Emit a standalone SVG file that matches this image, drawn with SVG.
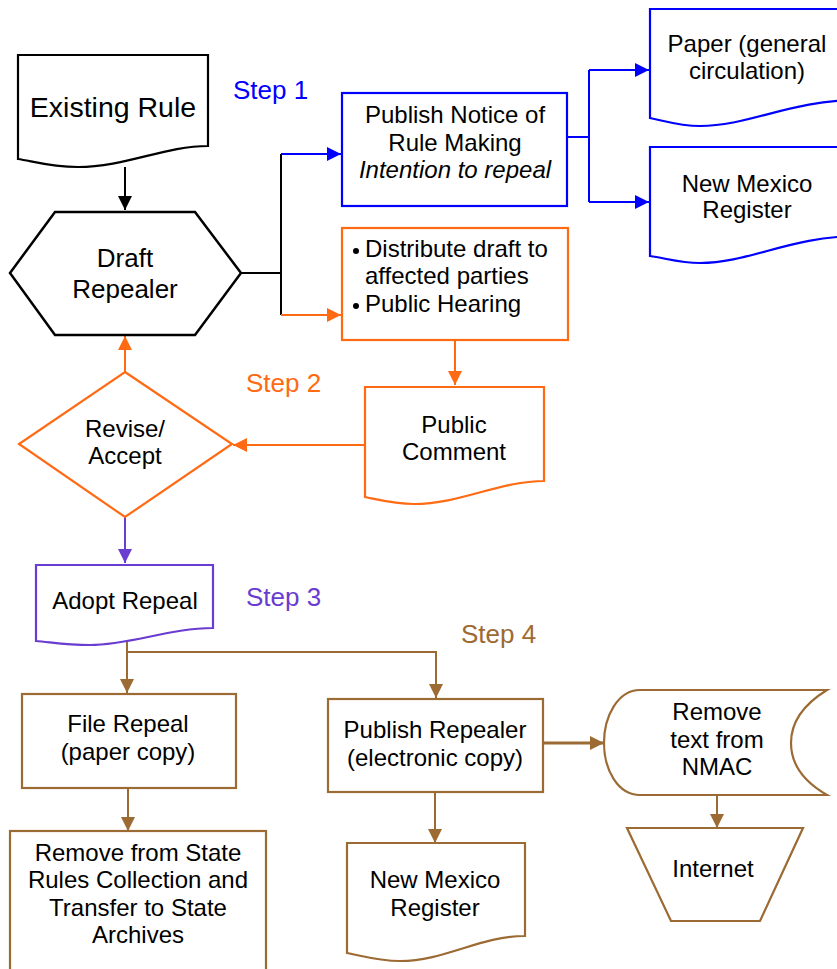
<svg xmlns="http://www.w3.org/2000/svg" width="837" height="969" viewBox="0 0 837 969">
<style>
text{font-family:"Liberation Sans",Arial,sans-serif;font-size:24px;fill:#000;text-anchor:middle}
.step{font-size:26px;text-anchor:start}
.shape{fill:#fff;stroke-width:2.2;stroke-linejoin:miter}
.k{stroke:#000}.b{stroke:#0000ff}.o{stroke:#ff6a13}.p{stroke:#6a3cd0}.n{stroke:#9c6a33}
.c{fill:none;stroke-width:2}
</style>
<defs>
<marker id="ak" markerUnits="userSpaceOnUse" markerWidth="14" markerHeight="14" refX="14" refY="7" orient="auto"><path d="M0,0 L14,7 L0,14 z" fill="#000"/></marker>
<marker id="ab" markerUnits="userSpaceOnUse" markerWidth="14" markerHeight="14" refX="14" refY="7" orient="auto"><path d="M0,0 L14,7 L0,14 z" fill="#0000ff"/></marker>
<marker id="ao" markerUnits="userSpaceOnUse" markerWidth="14" markerHeight="14" refX="14" refY="7" orient="auto"><path d="M0,0 L14,7 L0,14 z" fill="#ff6a13"/></marker>
<marker id="ap" markerUnits="userSpaceOnUse" markerWidth="14" markerHeight="14" refX="14" refY="7" orient="auto"><path d="M0,0 L14,7 L0,14 z" fill="#6a3cd0"/></marker>
<marker id="an" markerUnits="userSpaceOnUse" markerWidth="14" markerHeight="14" refX="14" refY="7" orient="auto"><path d="M0,0 L14,7 L0,14 z" fill="#9c6a33"/></marker>
</defs>
<rect width="837" height="969" fill="#fff"/>

<g id="connectors">
<path class="c k" d="M125,167 V210" marker-end="url(#ak)"/>
<path class="c k" d="M241,273 H281 M281,154 V315"/>
<path class="c b" d="M281,154 H341" marker-end="url(#ab)"/>
<path class="c o" d="M281,315 H341" marker-end="url(#ao)"/>
<path class="c b" d="M567,137 H589 M589,70 V202"/>
<path class="c b" d="M589,70 H649" marker-end="url(#ab)"/>
<path class="c b" d="M589,202 H649" marker-end="url(#ab)"/>
<path class="c o" d="M455,341 V385" marker-end="url(#ao)"/>
<path class="c o" d="M365,445 H233" marker-end="url(#ao)"/>
<path class="c o" d="M125,372 V336" marker-end="url(#ao)"/>
<path class="c p" d="M125,517 V563" marker-end="url(#ap)"/>
<path class="c n" d="M127,642 V693" marker-end="url(#an)"/>
<path class="c n" d="M127,652 H436 V698" marker-end="url(#an)"/>
<path class="c n" d="M128,788 V831" marker-end="url(#an)"/>
<path class="c n" style="stroke-width:3" d="M543,743 H604" marker-end="url(#an)"/>
<path class="c n" d="M717,795 V828" marker-end="url(#an)"/>
<path class="c n" d="M435,792 V843" marker-end="url(#an)"/>
</g>

<g id="existing-rule">
<path class="shape k" d="M18,55 H208 V146 C165,146 125,167 78,167 C50,167 32,161 18,159 Z"/>
<text x="113" y="117" style="font-size:28.5px">Existing Rule</text>
</g>
<text class="step" x="233" y="99" style="fill:#0000ff">Step 1</text>

<g id="draft-repealer">
<path class="shape k" style="stroke-width:2.5" d="M55,212 H195 L241,273 L195,335 H55 L10,273 Z"/>
<text x="125" y="267" style="font-size:26px">Draft</text>
<text x="125" y="298" style="font-size:26px">Repealer</text>
</g>

<g id="publish-notice">
<rect class="shape b" x="342" y="93" width="225" height="113"/>
<text x="455" y="123">Publish Notice of</text>
<text x="455" y="151">Rule Making</text>
<text x="455" y="178" font-style="italic">Intention to repeal</text>
</g>

<g id="paper">
<path class="shape b" d="M650,9 H860 V100 C790,100 750,126 700,126 C680,126 665,121 650,118 Z"/>
<text x="747" y="52">Paper (general</text>
<text x="747" y="79">circulation)</text>
</g>

<g id="nm-register-1">
<path class="shape b" d="M650,147 H860 V236 C790,236 750,263 700,263 C680,263 665,258 650,256 Z"/>
<text x="747" y="192">New Mexico</text>
<text x="747" y="218">Register</text>
</g>

<g id="distribute">
<rect class="shape o" x="342" y="228" width="226" height="112"/>
<circle cx="356" cy="251" r="3"/>
<circle cx="356" cy="306" r="3"/>
<text x="365" y="257" style="text-anchor:start">Distribute draft to</text>
<text x="365" y="284" style="text-anchor:start">affected parties</text>
<text x="365" y="312" style="text-anchor:start">Public Hearing</text>
</g>

<text class="step" x="246" y="392" style="fill:#ff6a13">Step 2</text>

<g id="public-comment">
<path class="shape o" d="M365,387 H544 V481 C500,481 460,504 414,504 C395,504 380,500 365,497 Z"/>
<text x="454" y="433">Public</text>
<text x="454" y="460">Comment</text>
</g>

<g id="revise-accept">
<path class="shape o" d="M125,372 L232,444 L125,517 L19,444 Z"/>
<text x="125" y="437">Revise/</text>
<text x="125" y="464">Accept</text>
</g>

<g id="adopt-repeal">
<path class="shape p" d="M36,565 H213 V628 C170,628 130,645 90,645 C65,645 50,642 36,641 Z"/>
<text x="125" y="609">Adopt Repeal</text>
</g>
<text class="step" x="246" y="606" style="fill:#6a3cd0">Step 3</text>
<text class="step" x="461" y="643" style="fill:#9c6a33">Step 4</text>

<g id="file-repeal">
<rect class="shape n" x="22" y="694" width="214" height="94"/>
<text x="128" y="732">File Repeal</text>
<text x="128" y="760">(paper copy)</text>
</g>

<g id="remove-state">
<rect class="shape n" x="10" y="831" width="256" height="160"/>
<text x="138" y="861">Remove from State</text>
<text x="138" y="888">Rules Collection and</text>
<text x="138" y="916">Transfer to State</text>
<text x="138" y="943">Archives</text>
</g>

<g id="publish-repealer">
<rect class="shape n" x="328" y="699" width="215" height="93"/>
<text x="435" y="738">Publish Repealer</text>
<text x="435" y="766">(electronic copy)</text>
</g>

<g id="remove-nmac">
<path class="shape n" d="M640,690 H827 C801,706 791,725 791,743 C791,761 801,780 827,795 H640 C618,795 604,770 604,743 C604,716 618,690 640,690 Z"/>
<text x="717" y="720">Remove</text>
<text x="717" y="748">text from</text>
<text x="717" y="775">NMAC</text>
</g>

<g id="internet">
<path class="shape n" d="M627,828 H803 L760,921 H671 Z"/>
<text x="713" y="877">Internet</text>
</g>

<g id="nm-register-2">
<path class="shape n" d="M347,843 H525 V936 C480,936 445,961 400,961 C380,961 362,956 347,953 Z"/>
<text x="435" y="888">New Mexico</text>
<text x="435" y="916">Register</text>
</g>
</svg>
